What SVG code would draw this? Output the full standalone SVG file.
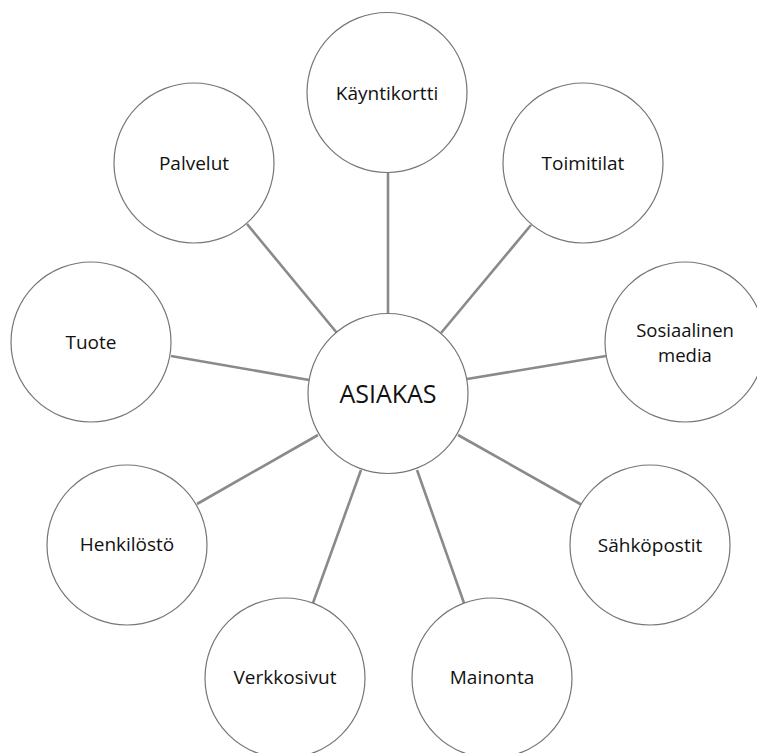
<svg xmlns="http://www.w3.org/2000/svg" width="757" height="753" viewBox="0 0 757 753">
<style>
.node circle{fill:#fff;stroke:#767676;stroke-width:1.2}
.node text{font-family:"Open Sans","Noto Sans",sans-serif;font-size:19px;fill:#111;text-anchor:middle}
#connectors line{stroke:#8a8a8a;stroke-width:2.6}
</style>
<rect width="757" height="753" fill="#fff"/>
<g id="connectors">
<line x1="388" y1="172" x2="388" y2="315"/>
<line x1="247" y1="224" x2="337" y2="333"/>
<line x1="531" y1="225" x2="441" y2="333"/>
<line x1="171" y1="356" x2="309" y2="380"/>
<line x1="606" y1="356" x2="467" y2="379"/>
<line x1="197" y1="504" x2="318" y2="435"/>
<line x1="582" y1="505" x2="458" y2="435"/>
<line x1="313" y1="603" x2="361" y2="470"/>
<line x1="464" y1="603" x2="417" y2="470"/>
</g>
<g id="asiakas" class="node"><circle cx="388" cy="393.5" r="80"/><text x="388" y="403" style="font-size:25px">ASIAKAS</text></g>
<g id="kayntikortti" class="node"><circle cx="387" cy="92.5" r="80"/><text x="387" y="100">Käyntikortti</text></g>
<g id="palvelut" class="node"><circle cx="194" cy="163" r="80"/><text x="194" y="170">Palvelut</text></g>
<g id="toimitilat" class="node"><circle cx="583" cy="163" r="80"/><text x="583" y="170">Toimitilat</text></g>
<g id="tuote" class="node"><circle cx="91" cy="342" r="80"/><text x="91" y="349">Tuote</text></g>
<g id="sosiaalinen" class="node"><circle cx="685" cy="342" r="80"/><text x="685" y="337" style="font-size:18.5px">Sosiaalinen</text><text x="685" y="362" style="font-size:18.5px">media</text></g>
<g id="henkilosto" class="node"><circle cx="127" cy="545" r="80"/><text x="127" y="551">Henkilöstö</text></g>
<g id="sahkopostit" class="node"><circle cx="650" cy="545" r="80"/><text x="650" y="552">Sähköpostit</text></g>
<g id="verkkosivut" class="node"><circle cx="285" cy="678" r="80"/><text x="285" y="684">Verkkosivut</text></g>
<g id="mainonta" class="node"><circle cx="492" cy="678" r="80"/><text x="492" y="684">Mainonta</text></g>
</svg>
